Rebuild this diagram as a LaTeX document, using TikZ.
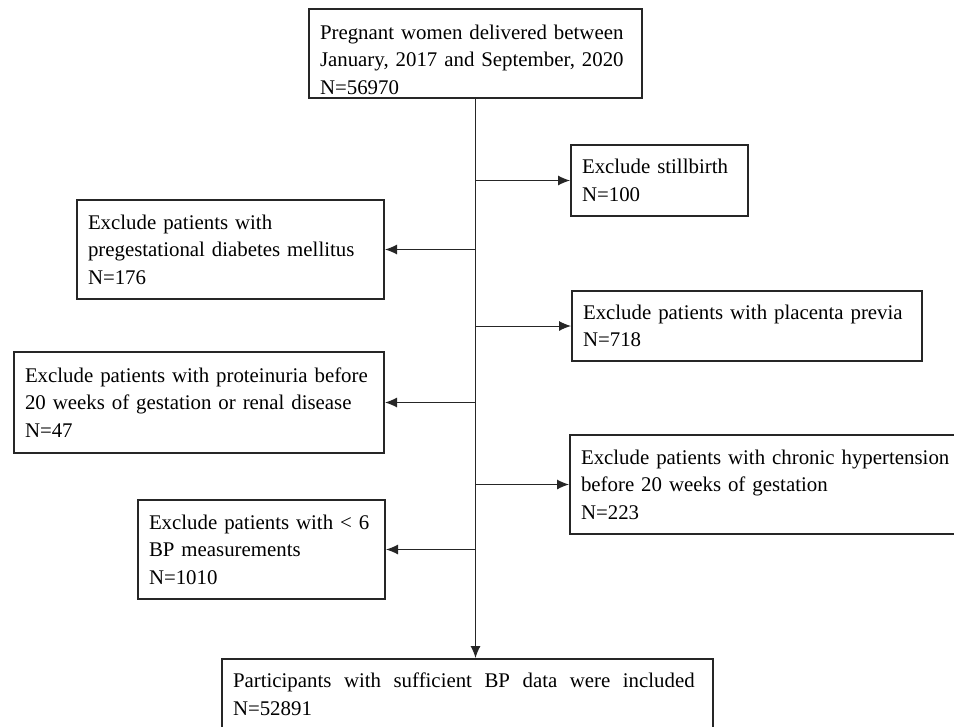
\documentclass[tikz,border=0pt]{standalone}
\usepackage{fontspec}
\setmainfont{Liberation Serif}
\usetikzlibrary{arrows.meta}
\tikzset{>={Latex[length=0.36cm,width=0.3cm]}}
\colorlet{penColor}{black!85}
\colorlet{lineColor}{black!85}
\tikzset{exbox/.style={draw=penColor,line width=0.06cm,anchor=north west,align=left,inner xsep=0.33cm,inner ysep=0.1cm,font=\fontsize{17.8pt}{23.5pt}\selectfont}}
\tikzset{flow/.style={draw=lineColor,line width=0.03cm}}

\begin{document}
\begin{tikzpicture}[x=0.03cm,y=-0.03cm]
      \useasboundingbox (0,0) rectangle (954,726);
      \node [exbox,text width=9.33cm,text height=0.8cm,text depth=1.67cm] (women) at (308,8) {Pregnant women delivered between\\January, 2017 and September, 2020\\N=56970};
      \node [exbox,text width=4.65cm,minimum height=2.13cm] (stillbirth) at (570,144) {Exclude stillbirth\\N=100};
      \node [exbox,text width=8.55cm,minimum height=2.97cm] (diabetes) at (76,199) {Exclude patients with\\pregestational diabetes mellitus\\N=176};
      \node [exbox,text width=9.85cm,minimum height=2.1cm] (placenta) at (571,290) {Exclude patients with placenta previa\\N=718};
      \node [exbox,text width=10.44cm,minimum height=3.03cm] (proteinuria) at (13,351) {Exclude patients with proteinuria before\\20 weeks of gestation or renal disease\\N=47};
      \node [exbox,text width=11.7cm,minimum height=2.97cm] (hypertension) at (569,434) {Exclude patients with chronic hypertension\\before 20 weeks of gestation\\N=223};
      \node [exbox,text width=6.75cm,minimum height=2.97cm] (fewbp) at (137,499) {Exclude patients with < 6\\BP measurements\\N=1010};
      \node [exbox,text width=14.07cm,minimum height=2.13cm] (included) at (221,658) {\hbox to 13.85cm{Participants\hfill with\hfill sufficient\hfill BP\hfill data\hfill were\hfill included}\\N=52891};
      \draw [flow,->] (women.south) -- (women.south |- included.north);
      \draw [flow,->] (women.south |- stillbirth.west) -- (stillbirth.west);
      \draw [flow,->] (women.south |- diabetes.east) -- (diabetes.east);
      \draw [flow,->] (women.south |- placenta.west) -- (placenta.west);
      \draw [flow,->] (women.south |- proteinuria.east) -- (proteinuria.east);
      \draw [flow,->] (women.south |- hypertension.west) -- (hypertension.west);
      \draw [flow,->] (women.south |- fewbp.east) -- (fewbp.east);
    \end{tikzpicture}
\end{document}
